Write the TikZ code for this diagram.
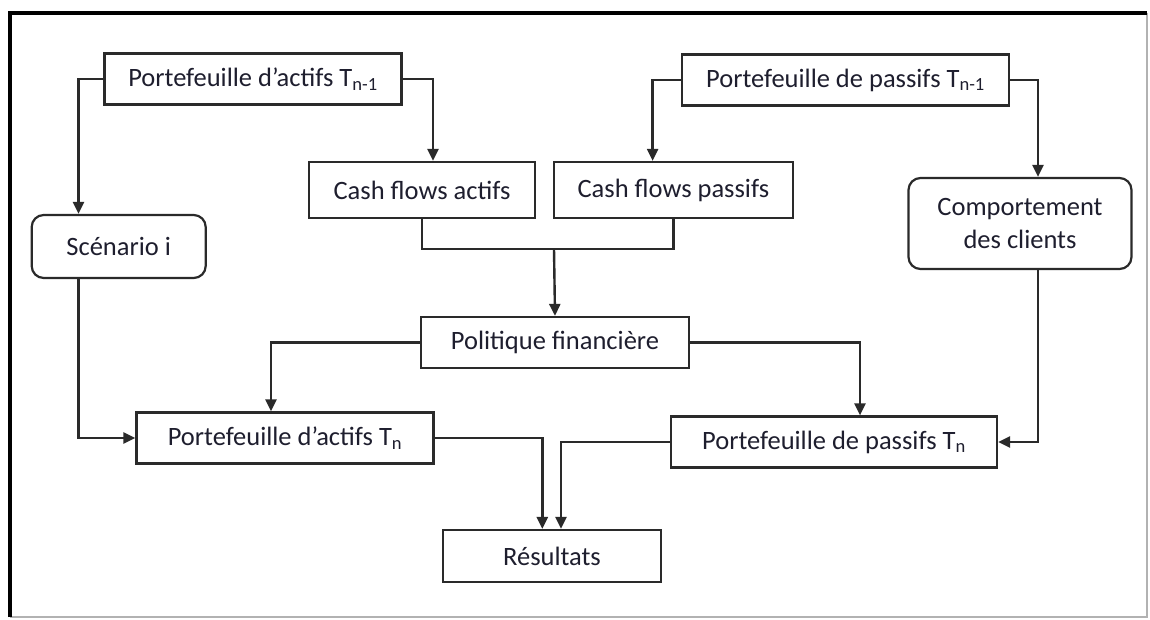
\documentclass[tikz,border=0pt]{standalone}
\usepackage{fontspec}
\setmainfont{Carlito}
\usetikzlibrary{arrows.meta}
\definecolor{txt}{HTML}{1E1E2E}
\definecolor{ln}{HTML}{2A2A2A}
\tikzset{
  box/.style={draw=ln, line width=2.2pt, inner sep=0pt, align=center, text=txt,
    font=\fontsize{26.5}{33}\selectfont},
  rbox/.style={box, rounded corners=12pt},
  arr/.style={draw=ln, line width=2.4pt, -{Triangle[length=12pt,width=11pt]}},
  con/.style={draw=ln, line width=2.4pt},
}
\begin{document}
\begin{tikzpicture}[x=1pt,y=-1pt]
\useasboundingbox (0,0) rectangle (1150,619);
% frame
\draw[gray!60, line width=2pt] (1147,13) -- (1147,617) -- (10,617);
\draw[black, line width=4pt] (10,617) -- (10,13) -- (1147,13);

% nodes
\node[box, minimum width=297pt, minimum height=51pt] (A) at (253,79) {Portefeuille d’actifs T\textsubscript{n-1}};
\node[box, minimum width=327pt, minimum height=51pt] (B) at (845.5,80) {Portefeuille de passifs T\textsubscript{n-1}};
\node[box, minimum width=226pt, minimum height=56pt] (cfa) at (422,190) {Cash flows actifs};
\node[box, minimum width=239pt, minimum height=56pt] (cfp) at (673.4,190) {Cash flows passifs};
\node[rbox, minimum width=174pt, minimum height=63pt] (scen) at (118.7,246.5) {Scénario i};
\node[rbox, minimum width=223pt, minimum height=91pt] (comp) at (1020,223.5) {Comportement\\des clients};
\node[box, minimum width=268pt, minimum height=51pt] (pol) at (555,342.5) {Politique financière};
\node[box, minimum width=297pt, minimum height=51pt] (actn) at (285,438) {Portefeuille d’actifs T\textsubscript{n}};
\node[box, minimum width=326pt, minimum height=51pt] (pasn) at (834,442) {Portefeuille de passifs T\textsubscript{n}};
\node[box, minimum width=218pt, minimum height=52pt] (res) at (552,556) {Résultats};

% helper coordinates
\coordinate (xL) at (78.5,0);
\coordinate (xA) at (433,0);
\coordinate (xB) at (652.6,0);
\coordinate (xC) at (1038,0);
\coordinate (j) at (554,249);
\coordinate (xP1) at (271,0);
\coordinate (xP2) at (860,0);
\coordinate (xR1) at (542.3,0);
\coordinate (xR2) at (561,0);

% connectors
\draw[arr] (A.west) -| (xL |- scen.north);
\draw[arr] (A.east) -| (xA |- cfa.north);
\draw[arr] (B.west) -| (xB |- cfp.north);
\draw[arr] (B.east) -| (xC |- comp.north);
\draw[con] (cfa.south) |- (j) -| (cfp.south);
\draw[arr] (j) -- (pol.north);
\draw[arr] (pol.west) -| (xP1 |- actn.north);
\draw[arr] (pol.east) -| (xP2 |- pasn.north);
\draw[arr] (xL |- scen.south) |- (actn.west);
\draw[arr] (xC |- comp.south) |- (pasn.east);
\draw[arr] (actn.east) -| (xR1 |- res.north);
\draw[arr] (pasn.west) -| (xR2 |- res.north);
\end{tikzpicture}
\end{document}
